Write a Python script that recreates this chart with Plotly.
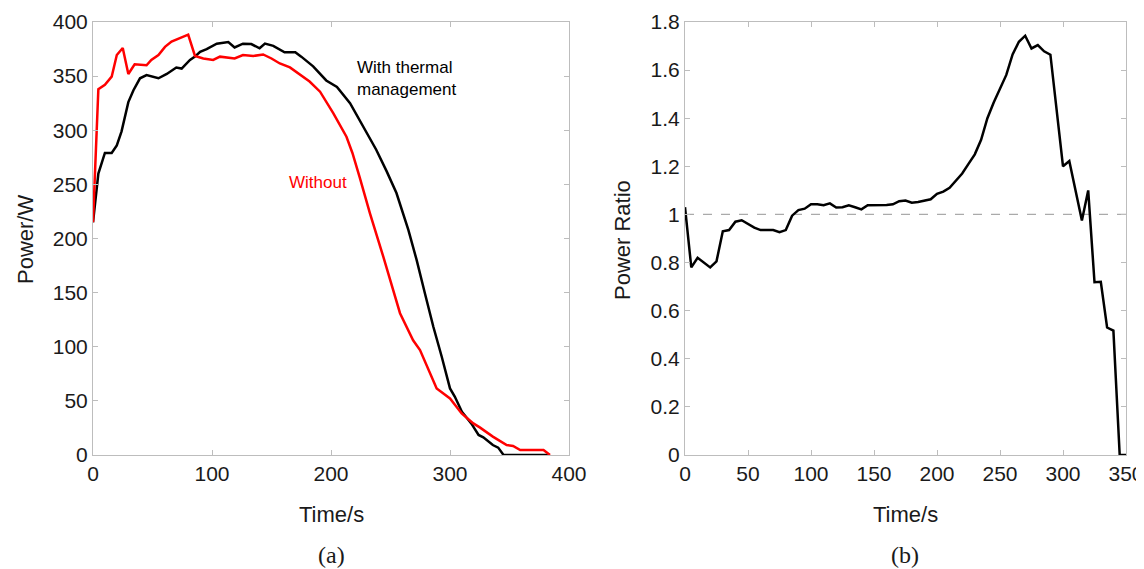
import plotly.graph_objects as go

# ---- Panel (a): power vs time ----
with_t = [0, 4.5, 10, 15.7, 20, 24, 29.7, 34, 39.5, 45, 55, 62, 70, 74.5, 81.5, 85.7, 90, 95.5,
          104, 113.7, 119, 126, 133, 140, 144.5, 151.5, 161, 170, 175, 185, 196, 205, 216, 230,
          238, 246.8, 255, 265, 272, 279, 286, 293, 300, 304, 310, 318, 324, 328, 336, 340.5, 345, 384]
with_p = [215, 260, 279, 279, 286, 299, 326, 337, 348, 351, 348, 352, 358, 357, 365, 368, 372.5, 375,
          380, 381.5, 376.5, 380, 379.6, 375.7, 380, 378, 372, 372, 368, 359, 346, 340, 325, 297,
          282, 262, 242, 208, 180, 149, 118.5, 91, 61.5, 54, 40, 29, 18.5, 16.4, 9.2, 6.8, 0, 0]

without_t = [0, 4.5, 10, 15.7, 20, 25, 29.7, 35, 45, 49, 55, 60.5, 66, 73, 80, 85.7, 92.7, 101,
             106.7, 119, 126, 134.7, 143, 150, 157, 165.5, 174, 182, 190.8, 202, 213, 218, 224,
             232.8, 244, 258, 269, 274.8, 288.8, 300, 309.8, 319.6, 325, 336, 347.6, 353, 359,
             378.6, 384]
without_p = [215, 338, 342, 349.5, 369.5, 376, 352, 361, 360, 365, 369.5, 377, 382, 385.5, 388.3,
             368.6, 366.3, 365, 368, 366.3, 369.5, 368.6, 370, 366.3, 361.7, 358, 351, 345, 335.6,
             315.6, 294, 279, 257, 223, 183, 131, 106, 97, 61.5, 52.3, 38.4, 29.2, 25.5, 17, 9.2,
             8.3, 4.6, 4.6, 0]

# ---- Panel (b): power ratio vs time ----
ratio_t = [0, 5, 10, 15, 20, 25, 30, 35, 40, 45, 50, 55, 60, 65, 70, 75, 80, 85, 90, 95, 100,
           105, 110, 115, 120, 125, 130, 135, 140, 145, 150, 155, 160, 165, 170, 175, 180, 185,
           190, 195, 200, 205, 210, 215, 220, 225, 230, 235, 240, 245, 250, 255, 260, 265, 270,
           275, 280, 285, 290, 300, 305, 315, 320, 325, 330, 335, 340, 345, 350]
ratio_v = [1.03, 0.78, 0.82, 0.80, 0.78, 0.805, 0.93, 0.935, 0.97, 0.976, 0.96, 0.945, 0.935,
           0.935, 0.935, 0.926, 0.935, 0.995, 1.018, 1.024, 1.042, 1.042, 1.038, 1.046, 1.029,
           1.03, 1.038, 1.03, 1.021, 1.038, 1.038, 1.038, 1.039, 1.042, 1.055, 1.058, 1.049,
           1.052, 1.058, 1.063, 1.086, 1.095, 1.111, 1.14, 1.17, 1.21, 1.25, 1.31, 1.40, 1.465,
           1.52, 1.58, 1.665, 1.718, 1.743, 1.69, 1.704, 1.678, 1.664, 1.20, 1.222, 0.975, 1.10,
           0.718, 0.72, 0.53, 0.517, 0, 0]

ref_t = [0, 350]
ref_v = [1, 1]

FONT = "Liberation Sans, Arial, Helvetica, sans-serif"
OFF = 8  # default page body margin
W, H = 1144 - OFF, 569 - OFF


def px(x):
    return (x - OFF) / W


def py(y):
    return 1 - (y - OFF) / H


fig = go.Figure()
fig.add_trace(go.Scatter(x=with_t, y=with_p, mode="lines", line=dict(color="black", width=2.5),
                         xaxis="x", yaxis="y", showlegend=False))
fig.add_trace(go.Scatter(x=without_t, y=without_p, mode="lines", line=dict(color="#ff0000", width=2.5),
                         xaxis="x", yaxis="y", showlegend=False))
fig.add_trace(go.Scatter(x=ref_t, y=ref_v, mode="lines", line=dict(color="#aaaaaa", width=1.3, dash="dash"),
                         xaxis="x2", yaxis="y2", showlegend=False))
fig.add_trace(go.Scatter(x=ratio_t, y=ratio_v, mode="lines", line=dict(color="black", width=2.5),
                         xaxis="x2", yaxis="y2", showlegend=False))

ax_common = dict(showgrid=False, zeroline=False, showline=True, linecolor="#bdbdbd", linewidth=1,
                 mirror="ticks", ticks="inside", ticklen=5, tickcolor="#bdbdbd", tickwidth=1,
                 tickfont=dict(family=FONT, size=21, color="#1a1a1a"), automargin=False)

yd = [py(455), py(22)]
fig.update_layout(
    width=W, height=H, margin=dict(l=0, r=0, t=0, b=0),
    paper_bgcolor="white", plot_bgcolor="white",
    xaxis=dict(domain=[px(93), px(569)], range=[0, 400], dtick=100, anchor="y", **ax_common),
    yaxis=dict(domain=yd, range=[0, 400], dtick=50, anchor="x", **ax_common),
    xaxis2=dict(domain=[px(685), px(1126)], range=[0, 350], dtick=50, anchor="y2", **ax_common),
    yaxis2=dict(domain=yd, range=[0, 1.8], dtick=0.2, anchor="x2", **ax_common),
)

ann = [
    dict(text="Time/s", x=px(331), y=py(515), font=dict(size=22)),
    dict(text="Time/s", x=px(905), y=py(515), font=dict(size=22)),
    dict(text="Power/W", x=px(25), y=py(240), textangle=-90, font=dict(size=22)),
    dict(text="Power Ratio", x=px(622), y=py(240), textangle=-90, font=dict(size=22)),
    dict(text="(a)", x=px(331), y=py(555),
         font=dict(size=24, family="Liberation Serif, Times New Roman, serif")),
    dict(text="(b)", x=px(905), y=py(555),
         font=dict(size=24, family="Liberation Serif, Times New Roman, serif")),
]
for a in ann:
    f = dict(family=FONT, color="#1a1a1a")
    f.update(a.pop("font"))
    fig.add_annotation(xref="paper", yref="paper", showarrow=False, xanchor="center",
                       yanchor="middle", font=f, **a)

fig.add_annotation(xref="x", yref="y", x=220, y=348, text="With thermal<br>management",
                   showarrow=False, xanchor="left", yanchor="middle", align="left",
                   font=dict(family=FONT, size=17, color="black"))
fig.add_annotation(xref="x", yref="y", x=163, y=252, text="Without",
                   showarrow=False, xanchor="left", yanchor="middle",
                   font=dict(family=FONT, size=17, color="#ff0000"))

fig.write_html("out.html")
